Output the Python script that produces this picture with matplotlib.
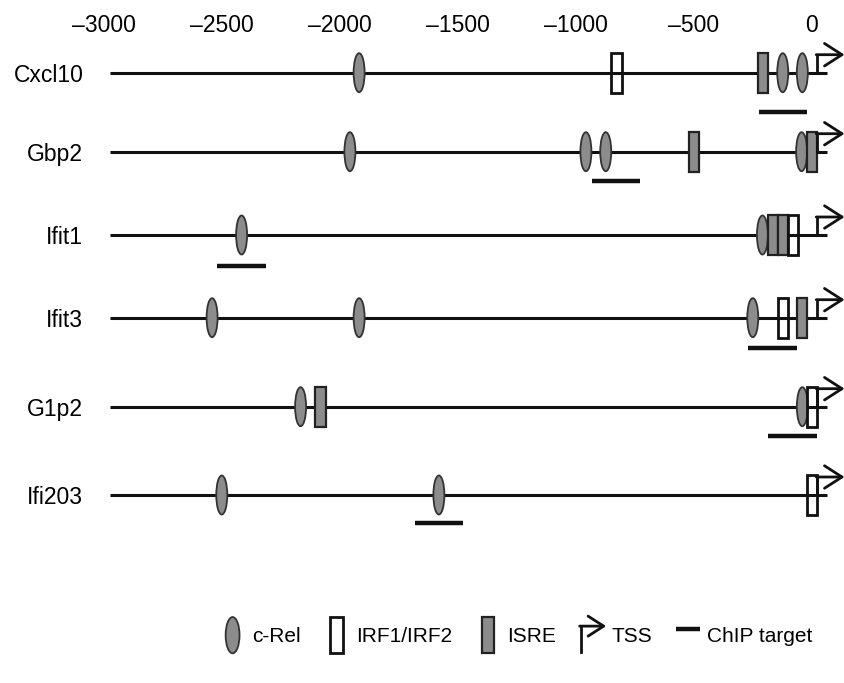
import matplotlib
matplotlib.use('Agg')
import matplotlib.pyplot as plt
from matplotlib.patches import Ellipse, Rectangle, FancyArrowPatch
from matplotlib.lines import Line2D
from matplotlib.legend_handler import HandlerPatch, HandlerBase

plt.rcParams['font.family'] = ['Liberation Sans', 'DejaVu Sans']

# promoter maps, positions in bp relative to the TSS
genes = ['Cxcl10', 'Gbp2', 'Ifit1', 'Ifit3', 'G1p2', 'Ifi203']
crel_sites = [[-1919, -124, -41],
              [-1958, -958, -874, -44],
              [-2417, -210],
              [-2542, -1919, -251],
              [-2167, -41],
              [-2501, -1581]]
irf_sites = [[-828], [], [-80], [-123], [0], [0]]
isre_sites = [[-208], [-500, -1], [-165, -123], [-42], [-2082], []]
chip_targets = [(-225, -22), (-933, -729), (-2521, -2314),
                (-271, -64), (-186, 21), (-1682, -1479)]
ticks = [-3000, -2500, -2000, -1500, -1000, -500, 0]
gene_start = -2975
gene_end = 62
tss = 20

# layout (y in pixels from the top)
row_y = [72.7, 151.7, 235, 317.7, 406.7, 495]
chip_dy = [39, 29, 31, 30, 29, 28]
px = 0.236  # pixels per bp

grey = '#8c8c8c'
dark = '#111111'

fig = plt.figure(figsize=(8.44, 6.83), dpi=100)
ax = fig.add_axes([0, 0, 1, 1])
ax.set_xlim(-812 / px, 32 / px)
ax.set_ylim(683, 0)
for s in ax.spines.values():
    s.set_visible(False)

ax.xaxis.tick_top()
ax.set_xticks(ticks)
ax.set_xticklabels(['\u2013' + str(-t) if t < 0 else str(t) for t in ticks])
ax.tick_params(axis='x', length=0, pad=-27, labelsize=16.5)
ax.set_yticks(row_y)
ax.set_yticklabels(genes)
ax.tick_params(axis='y', length=0, pad=-60, labelsize=16.5)

ew, eh = 11 / px, 39
bw, bh = 10.5 / px, 40

for i, g in enumerate(genes):
    y = row_y[i]
    ax.plot([gene_start, gene_end], [y, y], color=dark, lw=2.2, zorder=1,
            solid_capstyle='butt')
    for c in crel_sites[i]:
        ax.add_patch(Ellipse((c, y), ew, eh, fc=grey, ec='#333333', lw=1.3, zorder=2))
    for c in isre_sites[i]:
        ax.add_patch(Rectangle((c - bw / 2, y - bh / 2), bw, bh, fc=grey,
                               ec='#222222', lw=1.6, zorder=3))
    for c in irf_sites[i]:
        ax.add_patch(Rectangle((c - bw / 2, y - bh / 2), bw, bh, fc='none',
                               ec=dark, lw=2, zorder=3))
    # TSS arrow
    ax.plot([tss, tss], [y, y - 18], color=dark, lw=2, zorder=4)
    ax.annotate('', xy=(tss + 118, y - 18), xytext=(tss - 2, y - 18),
                arrowprops=dict(arrowstyle='->,head_length=0.7,head_width=0.45',
                                color=dark, lw=2, mutation_scale=18,
                                shrinkA=0, shrinkB=0),
                annotation_clip=False, zorder=4)
    a, b = chip_targets[i]
    ax.plot([a, b], [y + chip_dy[i], y + chip_dy[i]], color=dark, lw=3.2,
            solid_capstyle='butt', zorder=2)


def ell_patch(legend, orig_handle, xdescent, ydescent, width, height, fontsize):
    return Ellipse((width / 2 - xdescent, height / 2 - ydescent), 10, height)


def box_patch(legend, orig_handle, xdescent, ydescent, width, height, fontsize):
    return Rectangle((width / 2 - xdescent - 4.5, -ydescent), 9, height)


class HandlerTSS(HandlerBase):
    def create_artists(self, legend, orig_handle, xdescent, ydescent, width,
                       height, fontsize, trans):
        x0 = -xdescent + 0.05 * width
        yb = -ydescent + 0.05 * height
        yt = -ydescent + 0.75 * height
        ln = Line2D([x0, x0], [yb, yt], color=dark, lw=2, transform=trans)
        ar = FancyArrowPatch((x0 - 1, yt), (x0 + 1.05 * width, yt),
                             arrowstyle='->,head_length=0.7,head_width=0.45',
                             mutation_scale=16, color=dark, lw=2,
                             shrinkA=0, shrinkB=0, transform=trans)
        return [ln, ar]


h_crel = Ellipse((0, 0), 1, 1, fc=grey, ec='#333333', lw=1.3)
h_irf = Rectangle((0, 0), 1, 1, fc='white', ec=dark, lw=2)
h_isre = Rectangle((0, 0), 1, 1, fc=grey, ec='#222222', lw=1.6)
h_tss = Line2D([], [])
h_chip = Line2D([], [], color=dark, lw=3.2, solid_capstyle='butt')

fig.legend([h_crel, h_irf, h_isre, h_tss, h_chip],
           ['c-Rel', 'IRF1/IRF2', 'ISRE', 'TSS', 'ChIP target'],
           handler_map={h_crel: HandlerPatch(patch_func=ell_patch),
                        h_irf: HandlerPatch(patch_func=box_patch),
                        h_isre: HandlerPatch(patch_func=box_patch),
                        h_tss: HandlerTSS()},
           ncol=5, frameon=False, loc='center', bbox_to_anchor=(0.612, 0.07),
           fontsize=15, handlelength=1.15, handleheight=2.3,
           handletextpad=0.35, columnspacing=1.15)

fig.savefig('out.png', dpi=100)
